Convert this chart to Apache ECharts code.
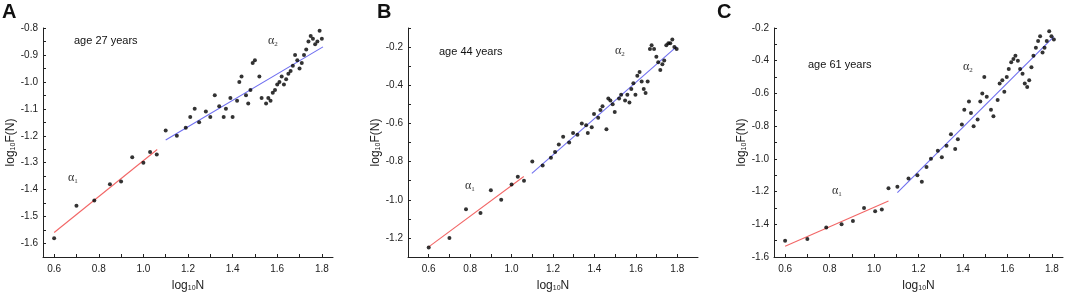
<!DOCTYPE html>
<html>
<head>
<meta charset="utf-8">
<script src="https://cdn.jsdelivr.net/npm/echarts@6/dist/echarts.min.js"></script>
<style>
  html, body { margin: 0; padding: 0; background: #fff; }
  #chart { width: 1065px; height: 297px; }
</style>
</head>
<body>
<div id="chart"></div>
<script>
// panel A, age 27
const ptsA = [
  [0.60, -1.58], [0.70, -1.46], [0.78, -1.44], [0.85, -1.38], [0.90, -1.37], [0.95, -1.28],
  [1.00, -1.30], [1.03, -1.26], [1.06, -1.27],
  [1.10, -1.18], [1.15, -1.20], [1.19, -1.17], [1.21, -1.13], [1.23, -1.10], [1.25, -1.15],
  [1.28, -1.11], [1.30, -1.13], [1.32, -1.05], [1.34, -1.09], [1.36, -1.13], [1.37, -1.10],
  [1.39, -1.06], [1.40, -1.13], [1.42, -1.07], [1.43, -1.00], [1.44, -0.98], [1.46, -1.05],
  [1.47, -1.08], [1.48, -1.03], [1.49, -0.93], [1.50, -0.92], [1.52, -0.98], [1.53, -1.06],
  [1.55, -1.08], [1.56, -1.06], [1.57, -1.07], [1.58, -1.04], [1.59, -1.03], [1.60, -1.01],
  [1.61, -1.00], [1.62, -0.98], [1.63, -1.01], [1.64, -0.99], [1.65, -0.97], [1.66, -0.96],
  [1.67, -0.94], [1.68, -0.90], [1.69, -0.92], [1.70, -0.95], [1.71, -0.93], [1.72, -0.90],
  [1.73, -0.88], [1.74, -0.85], [1.75, -0.83], [1.76, -0.84], [1.77, -0.86], [1.78, -0.85],
  [1.79, -0.81], [1.80, -0.84]
];
const fitA1 = [[0.60, -1.559], [1.062, -1.251]];
const fitA2 = [[1.10, -1.216], [1.805, -0.870]];

// panel B, age 44
const ptsB = [
  [0.60, -1.25], [0.70, -1.20], [0.78, -1.05], [0.85, -1.07], [0.90, -0.95], [0.95, -1.00],
  [1.00, -0.92], [1.03, -0.88], [1.06, -0.90],
  [1.10, -0.80], [1.15, -0.82], [1.19, -0.78], [1.21, -0.75], [1.228, -0.71], [1.249, -0.67],
  [1.278, -0.70], [1.297, -0.65], [1.318, -0.66], [1.339, -0.60], [1.36, -0.61], [1.368, -0.65],
  [1.387, -0.62], [1.398, -0.55], [1.418, -0.57], [1.429, -0.53], [1.439, -0.51], [1.458, -0.63],
  [1.467, -0.47], [1.477, -0.48], [1.488, -0.50], [1.498, -0.54], [1.519, -0.47], [1.529, -0.45],
  [1.548, -0.48], [1.559, -0.45], [1.569, -0.49], [1.578, -0.42], [1.588, -0.39], [1.598, -0.45],
  [1.607, -0.35], [1.618, -0.33], [1.628, -0.38], [1.638, -0.42], [1.647, -0.44], [1.657, -0.38],
  [1.668, -0.21], [1.676, -0.19], [1.688, -0.21], [1.699, -0.25], [1.708, -0.28], [1.718, -0.32],
  [1.728, -0.29], [1.737, -0.27], [1.747, -0.19], [1.757, -0.18], [1.766, -0.18], [1.776, -0.16],
  [1.786, -0.20], [1.797, -0.21]
];
const fitB1 = [[0.60, -1.247], [1.059, -0.878]];
const fitB2 = [[1.098, -0.862], [1.797, -0.198]];

// panel C, age 61
const ptsC = [
  [0.60, -1.50], [0.70, -1.49], [0.785, -1.42], [0.854, -1.40], [0.905, -1.38], [0.955, -1.30],
  [1.005, -1.32], [1.035, -1.31], [1.065, -1.18],
  [1.105, -1.17], [1.155, -1.12], [1.195, -1.10], [1.215, -1.14], [1.236, -1.05], [1.256, -1.00],
  [1.287, -0.95], [1.305, -0.99], [1.326, -0.92], [1.346, -0.85], [1.365, -0.94], [1.377, -0.88],
  [1.395, -0.79], [1.406, -0.70], [1.427, -0.65], [1.436, -0.72], [1.448, -0.80], [1.466, -0.76],
  [1.478, -0.65], [1.487, -0.60], [1.496, -0.50], [1.507, -0.62], [1.526, -0.70], [1.537, -0.74],
  [1.556, -0.64], [1.565, -0.54], [1.577, -0.52], [1.586, -0.59], [1.597, -0.50], [1.606, -0.45],
  [1.617, -0.41], [1.627, -0.39], [1.636, -0.37], [1.647, -0.40], [1.657, -0.45], [1.668, -0.48],
  [1.678, -0.54], [1.689, -0.56], [1.698, -0.52], [1.708, -0.44], [1.717, -0.37], [1.728, -0.32],
  [1.738, -0.28], [1.747, -0.25], [1.758, -0.35], [1.767, -0.32], [1.777, -0.28], [1.788, -0.22],
  [1.798, -0.25], [1.809, -0.27]
];
const fitC1 = [[0.60, -1.535], [1.065, -1.257]];
const fitC2 = [[1.105, -1.206], [1.809, -0.253]];

// tick labels
const xLabels = [0.6, 0.8, 1.0, 1.2, 1.4, 1.6, 1.8];
const xTicks = [0.6, 0.7, 0.8, 0.9, 1.0, 1.1, 1.2, 1.3, 1.4, 1.5, 1.6, 1.7, 1.8];
const yLabelsA = [-1.6, -1.5, -1.4, -1.3, -1.2, -1.1, -1.0, -0.9, -0.8];
const yTicksA = [-1.65, -1.6, -1.55, -1.5, -1.45, -1.4, -1.35, -1.3, -1.25, -1.2, -1.15, -1.1, -1.05, -1.0, -0.95, -0.9, -0.85, -0.8];
const yLabelsB = [-1.2, -1.0, -0.8, -0.6, -0.4, -0.2];
const yTicksB = [-1.3, -1.2, -1.1, -1.0, -0.9, -0.8, -0.7, -0.6, -0.5, -0.4, -0.3, -0.2, -0.1];
const yLabelsC = [-1.6, -1.4, -1.2, -1.0, -0.8, -0.6, -0.4, -0.2];
const yTicksC = [-1.6, -1.5, -1.4, -1.3, -1.2, -1.1, -1.0, -0.9, -0.8, -0.7, -0.6, -0.5, -0.4, -0.3, -0.2];

const ages = ["age 27 years", "age 44 years", "age 61 years"];
const letters = ["A", "B", "C"];

const font = "Liberation Sans, Arial, sans-serif";
const axisColor = "#222";
const red = "#f26666";
const blue = "#6f6ff0";

function xAxisCfg(idx, min, max) {
    return {
        type: "value",
        gridIndex: idx,
        min: min,
        max: max,
        name: "{a|log}{s|10}{a|N}",
        nameLocation: "middle",
        nameGap: 22,
        nameTextStyle: {
            rich: {
                a: { fontSize: 12, fontFamily: font, color: axisColor },
                s: { fontSize: 7, fontFamily: font, color: axisColor, verticalAlign: "bottom", padding: [6, 0, 0, 0] }
            }
        },
        splitLine: { show: false },
        axisLine: { lineStyle: { color: axisColor, width: 1 } },
        axisTick: { inside: true, length: 3, customValues: xTicks, lineStyle: { color: axisColor } },
        axisLabel: {
            customValues: xLabels,
            margin: 7,
            fontSize: 10,
            fontFamily: font,
            color: axisColor,
            formatter: (v) => v.toFixed(1)
        }
    };
}

function yAxisCfg(idx, min, max, labels, ticks, gap) {
    return {
        type: "value",
        gridIndex: idx,
        min: min,
        max: max,
        name: "{a|log}{s|10}{a|F(N)}",
        nameLocation: "middle",
        nameGap: gap,
        nameTextStyle: {
            rich: {
                a: { fontSize: 12, fontFamily: font, color: axisColor },
                s: { fontSize: 7, fontFamily: font, color: axisColor, verticalAlign: "bottom", padding: [6, 0, 0, 0] }
            }
        },
        splitLine: { show: false },
        axisLine: { show: true, lineStyle: { color: axisColor, width: 1 } },
        axisTick: { show: true, inside: true, length: 3, customValues: ticks, lineStyle: { color: axisColor } },
        axisLabel: {
            customValues: labels,
            margin: 5,
            fontSize: 10,
            fontFamily: font,
            color: axisColor,
            formatter: (v) => v.toFixed(1)
        }
    };
}

function scatter(idx, data) {
    return {
        type: "scatter",
        xAxisIndex: idx,
        yAxisIndex: idx,
        symbol: "circle",
        symbolSize: 4,
        itemStyle: { color: "#000" },
        data: data,
        z: 3
    };
}

function fitLine(idx, data, color) {
    return {
        type: "line",
        xAxisIndex: idx,
        yAxisIndex: idx,
        showSymbol: false,
        symbol: "none",
        lineStyle: { color: color, width: 1.1 },
        data: data,
        z: 2
    };
}

function label(x, y, text, size, family, weight) {
    return {
        type: "text",
        left: x,
        top: y,
        style: { text: text, fontSize: size, fontFamily: family, fontWeight: weight || "normal", fill: "#111" }
    };
}

function alpha(x, y, sub) {
    return {
        type: "text",
        left: x,
        top: y,
        style: {
            text: "{a|α}{s|" + sub + "}",
            rich: {
                a: { fontSize: 12, fontFamily: "Liberation Serif, Times New Roman, serif", fill: "#333" },
                s: { fontSize: 7, fontFamily: "Liberation Serif, serif", fill: "#333", verticalAlign: "bottom", padding: [6, 0, 0, 0] }
            }
        }
    };
}

const chart = echarts.init(document.getElementById("chart"));
chart.setOption({
    animation: false,
    grid: [
        { left: 43, top: 28, width: 290, height: 230 },
        { left: 408, top: 28, width: 290, height: 230 },
        { left: 774, top: 28, width: 289, height: 231 }
    ],
    xAxis: [
        xAxisCfg(0, 0.55, 1.85),
        xAxisCfg(1, 0.5, 1.9),
        xAxisCfg(2, 0.55, 1.85)
    ],
    yAxis: [
        yAxisCfg(0, -1.65, -0.8, yLabelsA, yTicksA, 26),
        yAxisCfg(1, -1.3, -0.1, yLabelsB, yTicksB, 26),
        yAxisCfg(2, -1.6, -0.2, yLabelsC, yTicksC, 26)
    ],
    graphic: [
        label(2, 2, letters[0], 20, font, "bold"),
        label(377, 2, letters[1], 20, font, "bold"),
        label(717, 2, letters[2], 20, font, "bold"),
        label(74, 35, ages[0], 11, font),
        label(439, 46, ages[1], 11, font),
        label(808, 59, ages[2], 11, font),
        alpha(68, 172, 1),
        alpha(268, 35, 2),
        alpha(465, 180, 1),
        alpha(615, 45, 2),
        alpha(832, 185, 1),
        alpha(963, 61, 2)
    ],
    series: [
        fitLine(0, fitA1, red),
        fitLine(0, fitA2, blue),
        scatter(0, ptsA),
        fitLine(1, fitB1, red),
        fitLine(1, fitB2, blue),
        scatter(1, ptsB),
        fitLine(2, fitC1, red),
        fitLine(2, fitC2, blue),
        scatter(2, ptsC)
    ]
});
</script>
</body>
</html>
